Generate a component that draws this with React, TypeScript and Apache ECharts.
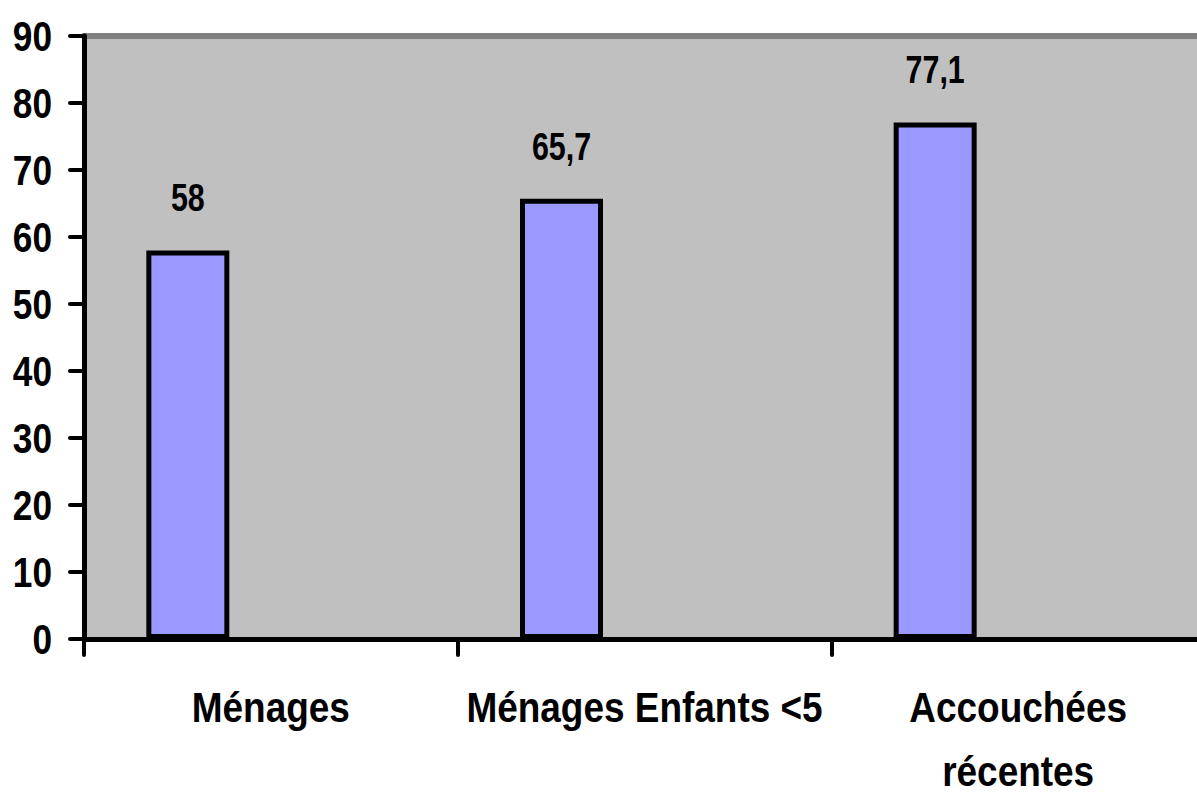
import React, { useEffect, useRef } from "react";
import * as echarts from "echarts";

const categories = ["Ménages", "Ménages Enfants <5", "Accouchées\nrécentes"];
const values = [58, 65.7, 77.1];
const emptyValues = [null, null, null];
const yTickValues = [0, 10, 20, 30, 40, 50, 60, 70, 80, 90];

const FONT = "'Liberation Sans', Arial, sans-serif";

export default function App() {
  const ref = useRef<HTMLDivElement>(null);
  useEffect(() => {
    if (!ref.current) return;
    const chart = echarts.init(ref.current, undefined, { renderer: "svg" });
    chart.setOption({
      animation: false,
      backgroundColor: "#ffffff",
      grid: {
        left: 84,
        top: 36,
        bottom: 155,
        right: -8,
        show: true,
        backgroundColor: "#C0C0C0",
        borderWidth: 0,
        containLabel: false,
        outerBoundsMode: "none",
      },
      xAxis: [
        {
          type: "category",
          data: categories,
          boundaryGap: true,
          axisLine: { lineStyle: { color: "#000", width: 5 } },
          axisTick: {
            show: true,
            length: 16,
            alignWithLabel: false,
            lineStyle: { color: "#000", width: 4, cap: "round" },
          },
          axisLabel: { show: false },
          splitLine: { show: false },
          z: 3,
        },
        {
          type: "category",
          data: categories,
          position: "top",
          axisLine: { lineStyle: { color: "#808080", width: 6 } },
          axisTick: { show: false },
          axisLabel: { show: false },
          splitLine: { show: false },
          z: 1,
        },
      ],
      yAxis: {
        type: "value",
        min: yTickValues[0],
        max: yTickValues[yTickValues.length - 1],
        interval: yTickValues[1] - yTickValues[0],
        axisLine: { show: true, lineStyle: { color: "#000", width: 5 } },
        axisTick: {
          show: true,
          length: 14,
          lineStyle: { color: "#000", width: 4, cap: "round" },
        },
        axisLabel: { show: false },
        splitLine: { show: false },
        z: 3,
      },
      series: [
        {
          type: "bar",
          data: values,
          barWidth: 83,
          barGap: "0%",
          itemStyle: { color: "#9999FF", borderColor: "#000", borderWidth: 5 },
          label: { show: false },
          z: 2,
        },
        { type: "bar", data: emptyValues, barWidth: 83, barGap: "0%" },
        { type: "bar", data: emptyValues, barWidth: 83, barGap: "0%" },
      ],
    });

    // Narrow-looking labels as real text, positioned through the chart's scales.
    const elements: any[] = [];
    const origin = chart.convertToPixel({ gridIndex: 0 }, [0, 0]) as number[];
    const next = chart.convertToPixel({ gridIndex: 0 }, [1, 0]) as number[];
    const band = next[0] - origin[0];
    const axisX = origin[0] - band / 2;
    const axisY = origin[1];

    yTickValues.forEach((v) => {
      const py = chart.convertToPixel({ yAxisIndex: 0 }, v) as number;
      elements.push({
        type: "text",
        x: axisX - 32,
        y: py,
        scaleX: 0.84,
        silent: true,
        style: {
          text: String(v),
          fill: "#000",
          font: `bold 42px ${FONT}`,
          align: "right",
          textAlign: "right",
          verticalAlign: "middle",
          textVerticalAlign: "middle",
        },
      });
    });

    categories.forEach((c, i) => {
      const px = (chart.convertToPixel({ gridIndex: 0 }, [i, 0]) as number[])[0];
      c.split("\n").forEach((line, li) => {
        elements.push({
          type: "text",
          x: px,
          y: axisY + 68 + li * 64,
          scaleX: 0.88,
          silent: true,
          style: {
            text: line,
            fill: "#000",
            font: `bold 42px ${FONT}`,
            align: "center",
            textAlign: "center",
            verticalAlign: "middle",
            textVerticalAlign: "middle",
          },
        });
      });
    });

    const seriesModel: any = (chart as any).getModel().getSeriesByIndex(0);
    const data = seriesModel.getData();
    values.forEach((v, i) => {
      const layout = data.getItemLayout(i);
      const cx = layout.x + layout.width / 2;
      const top = chart.convertToPixel({ yAxisIndex: 0 }, v) as number;
      elements.push({
        type: "text",
        x: cx,
        y: top - 53,
        scaleX: 0.78,
        silent: true,
        style: {
          text: String(v).replace(".", ","),
          fill: "#000",
          font: `bold 39px ${FONT}`,
          align: "center",
          textAlign: "center",
          verticalAlign: "middle",
          textVerticalAlign: "middle",
        },
      });
    });

    chart.setOption({ graphic: { elements } });
    return () => chart.dispose();
  }, []);
  return (
    <div
      ref={ref}
      style={{ position: "fixed", left: 0, top: 0, width: 1197, height: 794 }}
    />
  );
}
